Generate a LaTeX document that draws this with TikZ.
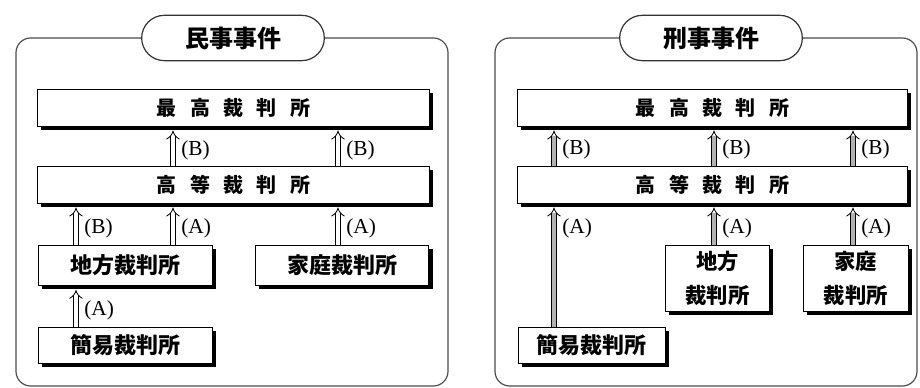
\documentclass[tikz,border=0pt]{standalone}
\usepackage{fontspec}
\setmainfont{Liberation Serif}
\newfontfamily\jp{Noto Sans CJK JP}
\usetikzlibrary{arrows.meta,shadows}
\newcommand{\gapsp}{\hspace{10pt}}
\begin{document}
\begin{tikzpicture}[x=0.75pt,y=-0.75pt,
  frame/.style={draw=black!70,line width=0.9pt,rounded corners=11pt},
  pill/.style={draw=black!80,line width=0.9pt,fill=white,rounded corners=17pt,
    minimum width=137pt,minimum height=34pt,inner sep=0pt,
    font=\jp\bfseries\fontsize{18}{20}\selectfont},
  court/.style={draw=black,line width=0.6pt,fill=white,anchor=north west,inner sep=0pt,
    drop shadow={shadow xshift=3pt,shadow yshift=-3pt,fill=black,opacity=1},
    font=\jp\bfseries\fontsize{16.5}{19}\selectfont,align=center},
  wide/.style={court,minimum width=294pt,minimum height=27.5pt,
    font=\jp\bfseries\fontsize{15}{17}\selectfont},
  arr/.style={double=white,double distance=3pt,line width=0.6pt,-{Implies},shorten >=3pt},
  garr/.style={arr,double=black!30},
  lab/.style={anchor=west,inner sep=0pt,font=\fontsize{16}{18}\selectfont}
]
\useasboundingbox (0,0) rectangle (920,388);
% ---------- left panel ----------
\draw[frame] (16,38) rectangle (448,386);
\node[pill] (t1) at (233,38) {民事事件};
\node[wide] (S1) at (37,89) {最\gapsp 高\gapsp 裁\gapsp 判\gapsp 所};
\node[wide] (H1) at (37,166) {高\gapsp 等\gapsp 裁\gapsp 判\gapsp 所};
\node[court,minimum width=130.5pt,minimum height=30pt] (D1) at (38,245) {地方裁判所};
\node[court,minimum width=130pt,minimum height=30pt] (F1) at (255,245) {家庭裁判所};
\node[court,minimum width=130.5pt,minimum height=27pt] (K1) at (38,327) {簡易裁判所};
\coordinate (xa) at (76,0);
\coordinate (xb) at (173,0);
\coordinate (xc) at (338,0);
\draw[arr] (H1.north -| xb) -- (S1.south -| xb);
\draw[arr] (H1.north -| xc) -- (S1.south -| xc);
\draw[arr] (D1.north -| xa) -- (H1.south -| xa);
\draw[arr] (D1.north -| xb) -- (H1.south -| xb);
\draw[arr] (F1.north -| xc) -- (H1.south -| xc);
\draw[arr] (K1.north -| xa) -- (D1.south -| xa);
\node[lab] (l1) at (181,150) {(B)};
\node[lab] (l2) at (346,150) {(B)};
\node[lab] (l3) at (84,228) {(B)};
\node[lab] (l4) at (181,228) {(A)};
\node[lab] (l5) at (346,228) {(A)};
\node[lab] (l6) at (84,310) {(A)};
% ---------- right panel ----------
\draw[frame] (495,38) rectangle (917,386);
\node[pill] (t2) at (711,38) {刑事事件};
\node[wide,minimum width=292.5pt] (S2) at (517,89) {最\gapsp 高\gapsp 裁\gapsp 判\gapsp 所};
\node[wide,minimum width=292.5pt] (H2) at (517,166) {高\gapsp 等\gapsp 裁\gapsp 判\gapsp 所};
\node[court,minimum width=78pt,minimum height=49.5pt,
  font=\jp\bfseries\fontsize{16}{25}\selectfont] (D2) at (665,245) {地方\\裁判所};
\node[court,minimum width=78.5pt,minimum height=49.5pt,
  font=\jp\bfseries\fontsize{16}{25}\selectfont] (F2) at (803,245) {家庭\\裁判所};
\node[court,minimum width=110pt,minimum height=27pt] (K2) at (518,327) {簡易裁判所};
\coordinate (xd) at (554,0);
\coordinate (xe) at (714,0);
\coordinate (xf) at (853,0);
\draw[garr] (H2.north -| xd) -- (S2.south -| xd);
\draw[garr] (H2.north -| xe) -- (S2.south -| xe);
\draw[garr] (H2.north -| xf) -- (S2.south -| xf);
\draw[garr] (K2.north -| xd) -- (H2.south -| xd);
\draw[garr] (D2.north -| xe) -- (H2.south -| xe);
\draw[garr] (F2.north -| xf) -- (H2.south -| xf);
\node[lab] (r1) at (562,149) {(B)};
\node[lab] (r2) at (722,149) {(B)};
\node[lab] (r3) at (861,149) {(B)};
\node[lab] (r4) at (562,228) {(A)};
\node[lab] (r5) at (722,228) {(A)};
\node[lab] (r6) at (861,228) {(A)};
\end{tikzpicture}
\end{document}
